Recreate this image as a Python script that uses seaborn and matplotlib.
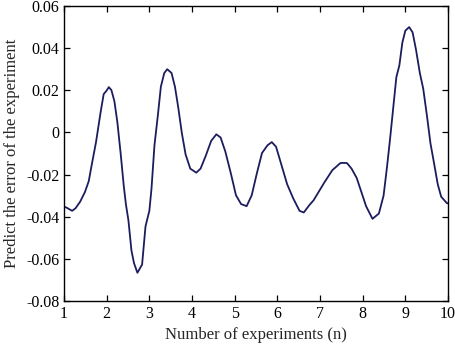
import matplotlib
matplotlib.use('Agg')
import matplotlib.pyplot as plt
from matplotlib.ticker import FuncFormatter
import pandas as pd
import seaborn as sns

# Values
n_exp = [1.00, 1.06, 1.19, 1.27, 1.38, 1.49, 1.58, 1.64, 1.75, 1.86, 1.93, 2.00,
         2.05, 2.11, 2.18, 2.25, 2.33, 2.40, 2.45, 2.51, 2.58, 2.64, 2.72, 2.83,
         2.91, 3.00, 3.05, 3.12, 3.20, 3.27, 3.35, 3.42, 3.52, 3.60, 3.68, 3.76,
         3.85, 3.96, 4.10, 4.20, 4.32, 4.45, 4.57, 4.67, 4.78, 4.91, 5.03, 5.15,
         5.28, 5.40, 5.52, 5.64, 5.77, 5.87, 5.97, 6.09, 6.23, 6.37, 6.52, 6.62,
         6.75, 6.85, 7.10, 7.29, 7.48, 7.63, 7.74, 7.86, 7.97, 8.08, 8.23, 8.38,
         8.49, 8.57, 8.64, 8.72, 8.79, 8.86, 8.93, 9.00, 9.09, 9.17, 9.25, 9.34,
         9.42, 9.51, 9.59, 9.68, 9.76, 9.84, 9.97, 10.00]
pred_error = [-0.0352, -0.0357, -0.0372, -0.0360, -0.0328, -0.0283, -0.0231, -0.0164,
              -0.0046, 0.0099, 0.0182, 0.0199, 0.0215, 0.0201, 0.0149, 0.0049,
              -0.0105, -0.0253, -0.0340, -0.0418, -0.0560, -0.0620, -0.0666, -0.0627,
              -0.0446, -0.0372, -0.0268, -0.0061, 0.0082, 0.0217, 0.0282, 0.0300,
              0.0282, 0.0217, 0.0115, -0.0001, -0.0105, -0.0172, -0.0191, -0.0172,
              -0.0112, -0.0040, -0.0009, -0.0024, -0.0090, -0.0194, -0.0298, -0.0340,
              -0.0350, -0.0298, -0.0194, -0.0098, -0.0061, -0.0046, -0.0068, -0.0150,
              -0.0246, -0.0312, -0.0372, -0.0380, -0.0345, -0.0322, -0.0238, -0.0179,
              -0.0145, -0.0145, -0.0172, -0.0216, -0.0283, -0.0350, -0.0410, -0.0385,
              -0.0300, -0.0165, -0.0035, 0.0124, 0.0263, 0.0318, 0.0426, 0.0483,
              0.0500, 0.0475, 0.0393, 0.0282, 0.0207, 0.0074, -0.0053, -0.0154,
              -0.0246, -0.0305, -0.0335, -0.0337]

df = pd.DataFrame({'n': n_exp, 'err': pred_error})

sns.set_style('ticks')
plt.rcParams['font.family'] = ['Liberation Serif', 'DejaVu Serif']
plt.rcParams['axes.unicode_minus'] = False

fig = plt.figure(figsize=(4.55, 3.47), dpi=100)
ax = fig.add_axes([0.1407, 0.1326, 0.8439, 0.8501])

sns.lineplot(x='n', y='err', data=df, ax=ax, color='#1c1c5e', linewidth=1.3)

ax.set_xlim(1, 10)
ax.set_ylim(-0.08, 0.06)
ax.set_xticks(range(1, 11))
ax.set_yticks([-0.08, -0.06, -0.04, -0.02, 0, 0.02, 0.04, 0.06])
ax.yaxis.set_major_formatter(FuncFormatter(lambda v, p: '%g' % round(v, 2)))
ax.tick_params(direction='in', top=True, right=True, length=4, width=0.9,
               labelsize=11.5, colors='black')
for s in ax.spines.values():
    s.set_linewidth(1.0)
    s.set_color('black')

ax.set_xlabel('Number of experiments (n)', fontsize=12)
ax.set_ylabel('Predict the error of the experiment', fontsize=12)

fig.savefig('out.png', dpi=100)
